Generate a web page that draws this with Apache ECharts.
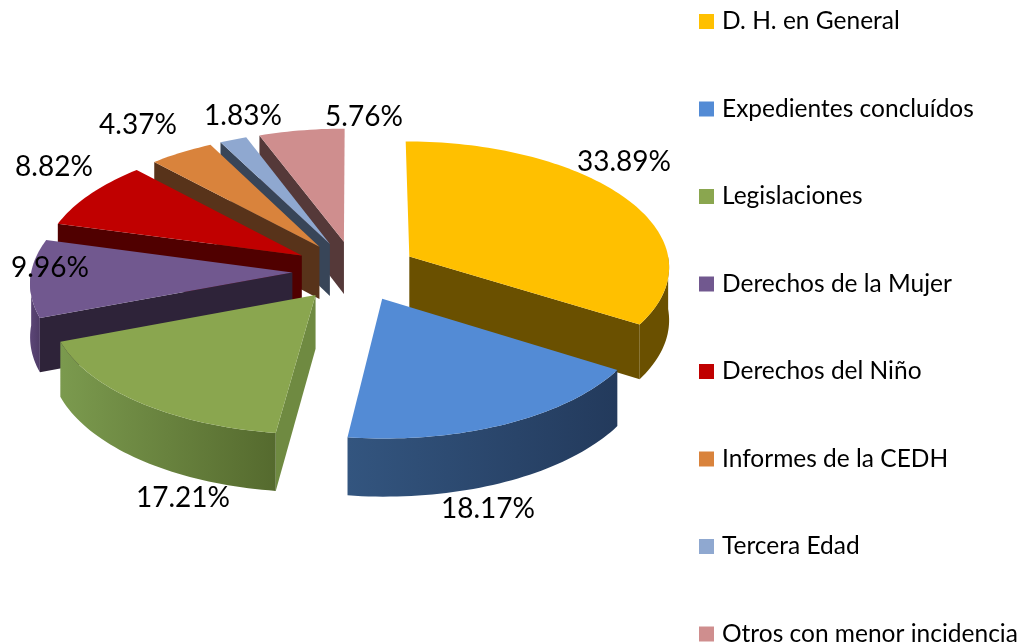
<!DOCTYPE html>
<html>
<head>
<meta charset="utf-8">
<style>html,body{margin:0;padding:0;background:#fff}#c{width:1022px;height:644px}</style>
<script src="https://cdn.jsdelivr.net/npm/echarts@6/dist/echarts.min.js"></script>
</head>
<body>
<div id="c"></div>
<script>
const categories = ['D. H. en General','Expedientes concluídos','Legislaciones','Derechos de la Mujer','Derechos del Niño','Informes de la CEDH','Tercera Edad','Otros con menor incidencia'];
const percentages = [33.89,18.17,17.21,9.96,8.82,4.37,1.83,5.76];
const topColors = ['#FFC000','#538BD5','#8AA64F','#71588F','#C00000','#D9833C','#8FA8D0','#CF8E8E'];
const faceColors = ['#6A5000','#233A5C','#6F8A41','#2E2339','#500000','#58331A','#384558','#553939'];
const wallLeftColors = ['#6A5000','#33557F','#7B9A4E','#5C4677','#500000','#58331A','#384558','#553939'];
const wallRightColors = ['#6A5000','#233A5C','#556A2E','#4E3B66','#500000','#58331A','#384558','#553939'];
const paintOrder = [5,8,7,5,4,3,2,1];
const labelCentres = [[624,162],[488,509],[183,498],[50,268],[54,167],[138,125],[243,116],[364,117]];

const CX=355, CY=271, W=261, H=125.5, P=0.0725, DEPTH=53, EXPLODE=0.24;
const total = percentages.reduce((a,b)=>a+b,0);
const rad = p => p/total*Math.PI*2;

function project(u,v,h){
  const d = 1-P*v;
  return [CX+W*u/d, CY+(H*v+DEPTH*h)/d];
}
function makeRender(i){
  return function(params, api){
    const before = percentages.slice(0,i).reduce((a,b)=>a+b,0);
    const t0 = rad(before), t1 = rad(before+api.value(0)), mid=(t0+t1)/2;
    const ou = EXPLODE*Math.sin(mid), ov = -EXPLODE*Math.cos(mid);
    const rim = (t,h)=>project(ou+Math.sin(t), ov-Math.cos(t), h);
    const apex = h=>project(ou,ov,h);
    const arc = (a,b,h)=>{const n=Math.max(2,Math.ceil((b-a)*40)),out=[];for(let k=0;k<=n;k++)out.push(rim(a+(b-a)*k/n,h));return out;};
    const children=[];
    // radial cut faces
    if(Math.sin(t0)<0){
      children.push({type:'polygon',z2:1,shape:{points:[apex(0),rim(t0,0),rim(t0,1),apex(1)]},style:{fill:faceColors[i]}});
    }
    if(Math.sin(t1)>0){
      children.push({type:'polygon',z2:1,shape:{points:[apex(0),rim(t1,0),rim(t1,1),apex(1)]},style:{fill:faceColors[i]}});
    }
    // outer wall, front-facing part only
    const a=Math.max(t0,Math.PI/2), b=Math.min(t1,Math.PI*1.5);
    if(b>a){
      const pts=arc(a,b,0).concat(arc(a,b,1).reverse());
      children.push({type:'polygon',z2:2,shape:{points:pts},style:{fill:{type:'linear',x:0,y:0,x2:1,y2:0,colorStops:[{offset:0,color:wallLeftColors[i]},{offset:1,color:wallRightColors[i]}]}}});
    }
    // top
    children.push({type:'polygon',z2:3,shape:{points:[apex(0)].concat(arc(t0,t1,0))},style:{fill:topColors[i]}});
    // label
    children.push({type:'text',z2:10,style:{x:labelCentres[i][0],y:labelCentres[i][1],text:percentages[i].toFixed(2)+'%',fill:'#000',font:'28px Lato, "Open Sans", sans-serif',textAlign:'center',textVerticalAlign:'middle'}});
    return {type:'group',children};
  };
}
const chart = echarts.init(document.getElementById('c'),null,{renderer:'canvas'});
chart.setOption({
  animation:false,
  backgroundColor:'#fff',
  legend:{
    orient:'vertical',left:699,top:9,height:700,selectedMode:false,
    itemWidth:15,itemHeight:15,itemGap:62.5,padding:0,icon:'rect',
    textStyle:{fontFamily:'Lato, "Open Sans", sans-serif',fontSize:24.5,color:'#000',padding:[0,0,0,3]},
    data:categories
  },
  series:categories.map((name,i)=>({
    type:'custom',name,coordinateSystem:'none',z:2+paintOrder[i],
    itemStyle:{color:topColors[i]},silent:true,
    data:[[percentages[i]]],renderItem:makeRender(i)
  }))
});
</script>
</body>
</html>
